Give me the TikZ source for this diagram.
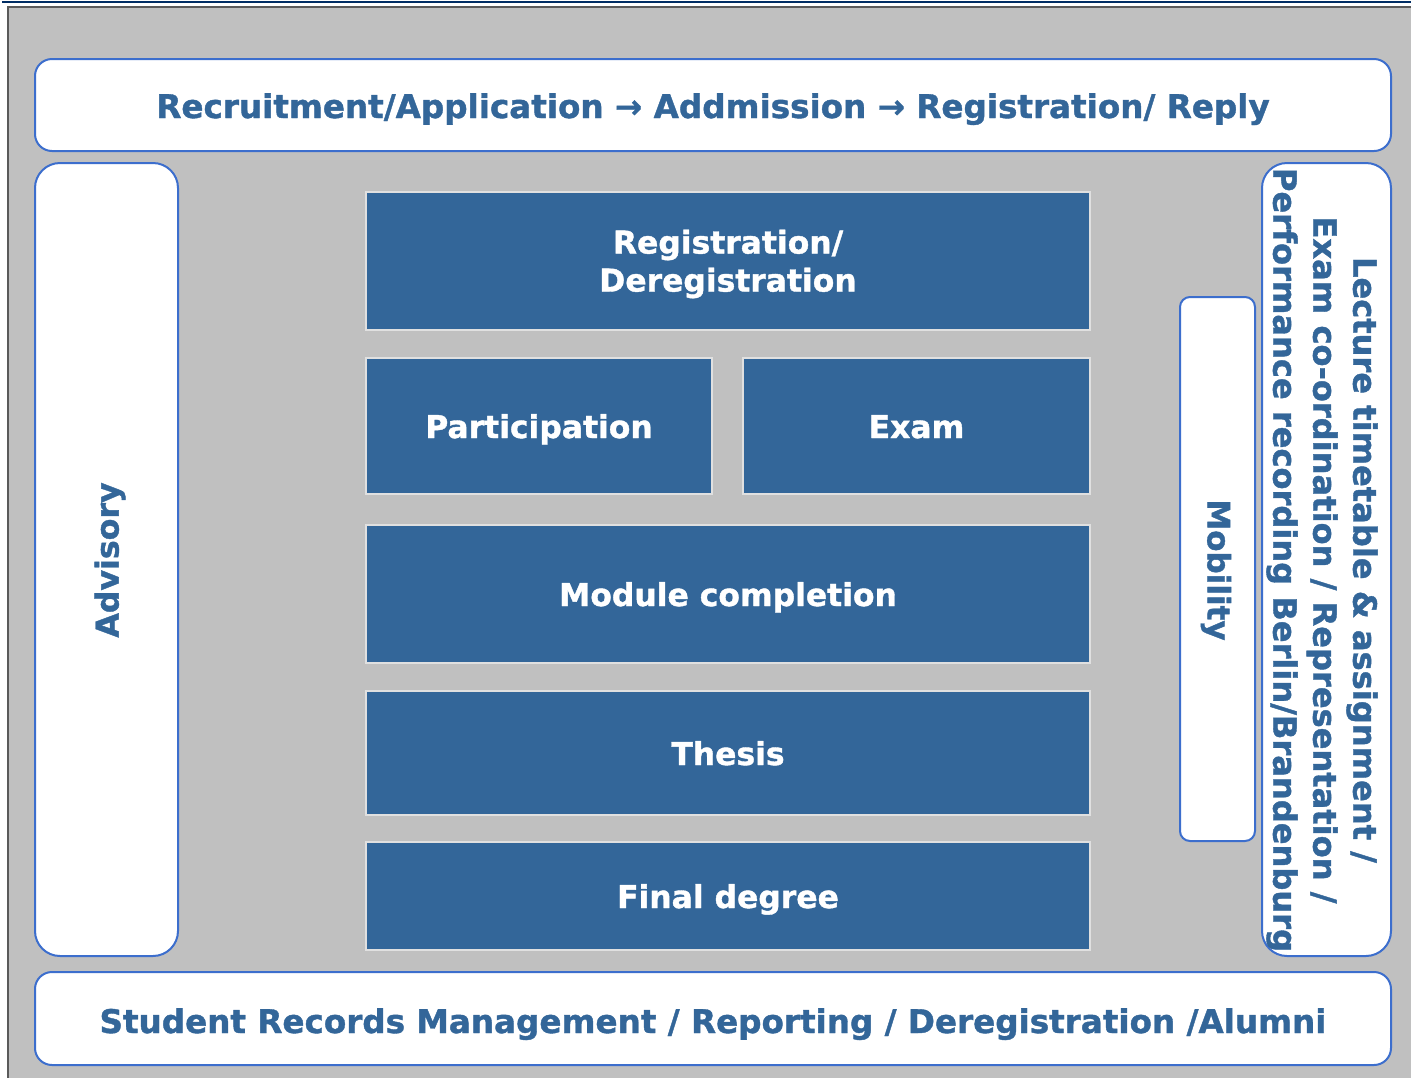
\documentclass[tikz,border=0pt]{standalone}
\usepackage{fontspec}
\setmainfont{DejaVu Sans}[BoldFeatures={FakeBold=1.2}]
\definecolor{txtblue}{RGB}{51,102,153}
\definecolor{boxblue}{RGB}{51,102,153}
\definecolor{edgeblue}{RGB}{60,110,205}
\definecolor{panelgray}{RGB}{192,192,192}
\definecolor{navy}{RGB}{0,45,100}
\definecolor{paneledge}{RGB}{90,90,90}
\begin{document}
\begin{tikzpicture}[x=1pt,y=-1pt,
  wbox/.style={draw=edgeblue, line width=2pt, fill=white},
  bbox/.style={draw=white!88!black, line width=1.2pt, fill=boxblue, text=white,
    font=\bfseries\fontsize{31.4}{38}\selectfont, align=center, inner sep=0pt,
    text height=24pt, text depth=0pt},
  wtxt/.style={text=txtblue, font=\bfseries\fontsize{31.6}{38}\selectfont, inner sep=0pt}]
\useasboundingbox (0,0) rectangle (1411,1077);
% frame
\fill[white] (0,0) rectangle (1411,1077);
\draw[navy, line width=2pt] (2,2) -- (1411,2);
\fill[panelgray] (8,7) rectangle (1413,1079);
\draw[paneledge, line width=1.6pt] (8,1079) -- (8,7) -- (1413,7);
% top and bottom bars
\node[wbox, rounded corners=17pt, minimum width=1356pt, minimum height=92pt] (topbar) at (713,105) {};
\node[wtxt, anchor=base, font=\bfseries\fontsize{32.6}{38}\selectfont] (toptext) at (713,118) {Recruitment/Application → Addmission → Registration/ Reply};
\node[wbox, rounded corners=17pt, minimum width=1356pt, minimum height=93pt] (botbar) at (713,1018.5) {};
\node[wtxt, anchor=base, font=\bfseries\fontsize{32.6}{38}\selectfont] (bottext) at (713,1033) {Student Records Management / Reporting / Deregistration /Alumni};
% side boxes
\node[wbox, rounded corners=25pt, minimum width=143pt, minimum height=793pt] (adv) at (106.5,559.5) {};
\node[wtxt, rotate=90] (advtext) at (110,560) {Advisory};
\node[wbox, rounded corners=25pt, minimum width=129pt, minimum height=793pt] (lect) at (1326.5,559.5) {};
\node[wtxt, rotate=-90, align=center, font=\bfseries\fontsize{32.1}{40}\selectfont] (lecttext) at (1322,560)
  {Lecture timetable \& assignment /\\Exam co-ordination / Representation /\\Performance recording Berlin/Brandenburg};
\node[wbox, rounded corners=10pt, minimum width=75pt, minimum height=544pt] (mob) at (1217.5,569) {};
\node[wtxt, rotate=-90, font=\bfseries\fontsize{31}{38}\selectfont] (mobtext) at (1216,570) {Mobility};
% central blue boxes
\node[bbox, minimum width=724pt, minimum height=138pt] (reg) at (728,261) {};
\node[text=white, font=\bfseries\fontsize{31.4}{38}\selectfont, align=center, inner sep=0pt] (regtext) at (728,264) {Registration/\\Deregistration};
\node[bbox, minimum width=346pt, minimum height=136pt] (part) at (539,426) {Participation};
\node[bbox, minimum width=347pt, minimum height=136pt] (exam) at (916.5,426) {Exam};
\node[bbox, minimum width=724pt, minimum height=138pt] (mod) at (728,594) {Module completion};
\node[bbox, minimum width=724pt, minimum height=124pt] (thesis) at (728,753) {Thesis};
\node[bbox, minimum width=724pt, minimum height=108pt] (final) at (728,896) {Final degree};
\end{tikzpicture}
\end{document}
